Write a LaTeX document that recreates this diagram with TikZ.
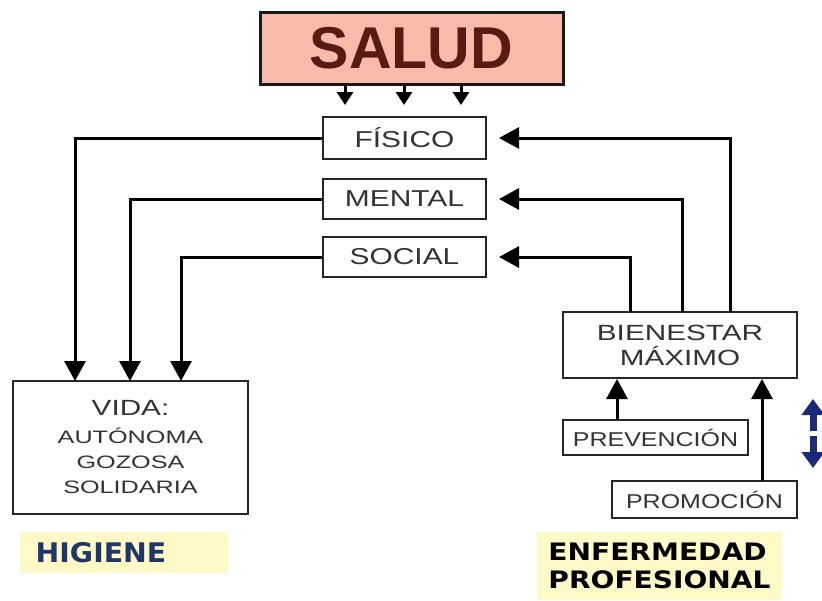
\documentclass[tikz,border=0pt]{standalone}
\usepackage{fontspec}
\setmainfont{Liberation Sans}
\newfontfamily\verd{DejaVu Sans}
\usetikzlibrary{arrows.meta}
\definecolor{saludfill}{HTML}{F6BBA9}
\definecolor{saludtext}{HTML}{5A1A12}
\definecolor{labelbg}{HTML}{FFF9C8}
\definecolor{navy}{HTML}{1E3768}
\definecolor{bluearr}{HTML}{1A2A78}
\newcommand{\sx}[2]{\scalebox{#1}[1]{#2}}
\tikzset{
  box/.style={draw=black!85, line width=2pt, fill=white, inner sep=0pt, align=center, text=black!80},
  conn/.style={line width=3pt, -{Triangle[length=20pt,width=21pt]}},
  small/.style={line width=3pt, -{Triangle[length=13pt,width=16pt]}},
  lab/.style={fill=labelbg, inner sep=0pt}
}
\begin{document}
\begin{tikzpicture}[x=1pt,y=-1pt]
\useasboundingbox (0,0) rectangle (822,600);
\fill[white] (0,0) rectangle (822,600);
% boxes
\node[box, fill=saludfill, draw=black!90, line width=3pt, minimum width=303pt, minimum height=72pt, text=saludtext,
      font={\fontsize{59}{60}\selectfont\bfseries}] (salud) at (411.5,48) {SALUD};
\node[box, minimum width=163pt, minimum height=42pt, font={\fontsize{23}{24}\selectfont}] (fisico) at (404.5,138)
  {\sx{1.3}{FÍSICO}};
\node[box, minimum width=163pt, minimum height=40pt, font={\fontsize{23}{24}\selectfont}] (mental) at (404.5,199)
  {\sx{1.3}{MENTAL}};
\node[box, minimum width=163pt, minimum height=40pt, font={\fontsize{23}{24}\selectfont}] (social) at (404.5,257)
  {\sx{1.3}{SOCIAL}};
\node[box, minimum width=235pt, minimum height=133pt, font={\fontsize{18}{25}\selectfont}] (vida) at (130.5,447.5)
  {{\fontsize{22}{24}\selectfont\sx{1.35}{VIDA:}}\\[3pt] \sx{1.4}{AUTÓNOMA}\\ \sx{1.4}{GOZOSA}\\ \sx{1.4}{SOLIDARIA}};
\node[box, minimum width=234pt, minimum height=66pt, font={\fontsize{22}{25}\selectfont}] (bien) at (680,345)
  {\sx{1.35}{BIENESTAR}\\ \sx{1.35}{MÁXIMO}};
\node[box, minimum width=185pt, minimum height=35pt, font={\fontsize{20}{22}\selectfont}] (prev) at (655.5,437.5)
  {\sx{1.25}{PREVENCIÓN}};
\node[box, minimum width=185pt, minimum height=37pt, font={\fontsize{20}{22}\selectfont}] (prom) at (704.5,499.5)
  {\sx{1.25}{PROMOCIÓN}};
% labels
\node[lab, minimum width=208pt, minimum height=41pt, text=navy, font={\verd\bfseries\fontsize{27}{30}\selectfont}] (hig) at (124,552.5)
  {\hspace*{14pt}\sx{1.05}{HIGIENE}\hspace*{60pt}};
\node[lab, minimum width=245pt, minimum height=68pt, text=black, align=left, font={\verd\bfseries\fontsize{24}{28}\selectfont}] (enf) at (659.5,566)
  {\sx{1.17}{ENFERMEDAD}\\ \sx{1.17}{PROFESIONAL}};
% SALUD arrows
\foreach \xx/\n in {345/a,404/b,461/c}{
  \coordinate (s\n) at (\xx,84);
  \coordinate (t\n) at (\xx,105);
  \draw[small] (s\n) -- (t\n);
}
% left connectors
\coordinate (v1) at (75,381);
\coordinate (v2) at (130,381);
\coordinate (v3) at (181,381);
\draw[conn] (fisico.west) -| (v1);
\draw[conn] (mental.west) -| (v2);
\draw[conn] (social.west) -| (v3);
% right connectors
\coordinate (b1) at (730,312);
\coordinate (b2) at (682,312);
\coordinate (b3) at (630,312);
\coordinate (f1) at (499,138);
\coordinate (f2) at (499,199);
\coordinate (f3) at (499,257);
\draw[conn] (b1) |- (f1);
\draw[conn] (b2) |- (f2);
\draw[conn] (b3) |- (f3);
% bottom connectors
\coordinate (p1) at (617,420);
\coordinate (q1) at (617,379);
\coordinate (p2) at (762,481);
\coordinate (q2) at (762,379);
\draw[conn] (p1) -- (q1);
\draw[conn] (p2) -- (q2);
% blue double arrow
\coordinate (u0) at (813,431);
\coordinate (u1) at (813,399);
\coordinate (d0) at (813,436);
\coordinate (d1) at (813,468);
\draw[bluearr, line width=7pt, -{Triangle[length=16pt,width=22pt]}] (u0) -- (u1);
\draw[bluearr, line width=7pt, -{Triangle[length=16pt,width=22pt]}] (d0) -- (d1);
\end{tikzpicture}
\end{document}
